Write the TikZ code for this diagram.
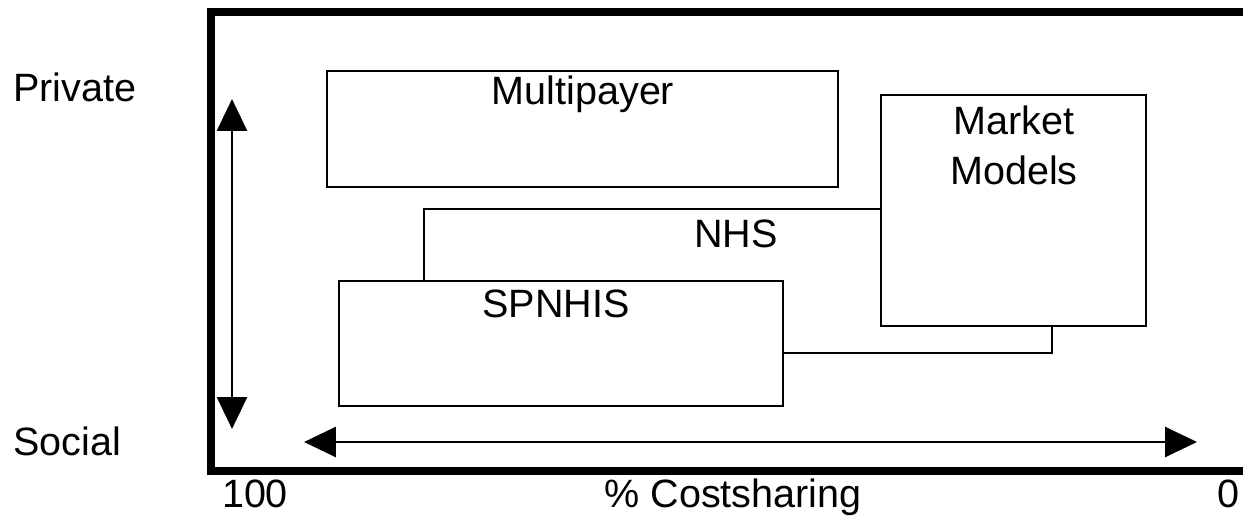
\documentclass[tikz,border=0pt]{standalone}
\usepackage{fontspec}
\setmainfont{Liberation Sans}
\usetikzlibrary{positioning,arrows.meta}

\begin{document}
\begin{tikzpicture}[x=0.02cm,y=-0.02cm,
		box/.style={draw,line width=1.5pt},
		axis/.style={line width=1.6pt,{Triangle[width=0.6cm,length=0.64cm]}-{Triangle[width=0.6cm,length=0.64cm]}},
		lbl/.style={font=\fontsize{22.5}{27}\selectfont,inner sep=0pt,anchor=base}]
	\useasboundingbox (0,0) rectangle (1243,516);
	% frame
	\draw[line width=0.16cm,miter limit=10] (1243,12) -- (211,12) -- (211,471) -- (1243,471);
	% regions
	\draw[box] (424,209) rectangle (1052,353);
	\draw[box,fill=white] (339,281) rectangle (783,406);
	\draw[box,fill=white] (881,95) rectangle (1146,326);
	\draw[box,fill=white] (327,71) rectangle (838,187);
	\node[lbl] (multipayer) at (583,105) {Multipayer};
	\node[lbl] (market) at (1014,135) {Market};
	\node[lbl] (models) at (1014,185) {Models};
	\node[lbl] (nhs) at (736,248) {NHS};
	\node[lbl] (spnhis) at (556,318) {SPNHIS};
	% axes
	\coordinate (ytop) at (232,99);
	\coordinate (ybot) at (232,429);
	\coordinate (xleft) at (304,442);
	\coordinate (xright) at (1197,442);
	\draw[axis] (ytop) -- (ybot);
	\draw[axis] (xleft) -- (xright);
	\node[lbl,anchor=base west] (private) at (13,102) {Private};
	\node[lbl,anchor=base west] (social) at (13,455) {Social};
	\node[lbl] (hundred) at (255,507) {100};
	\node[lbl] (costsharing) at (733,507) {\% Costsharing};
	\node[lbl] (zero) at (1228,507) {0};
\end{tikzpicture}
\end{document}
